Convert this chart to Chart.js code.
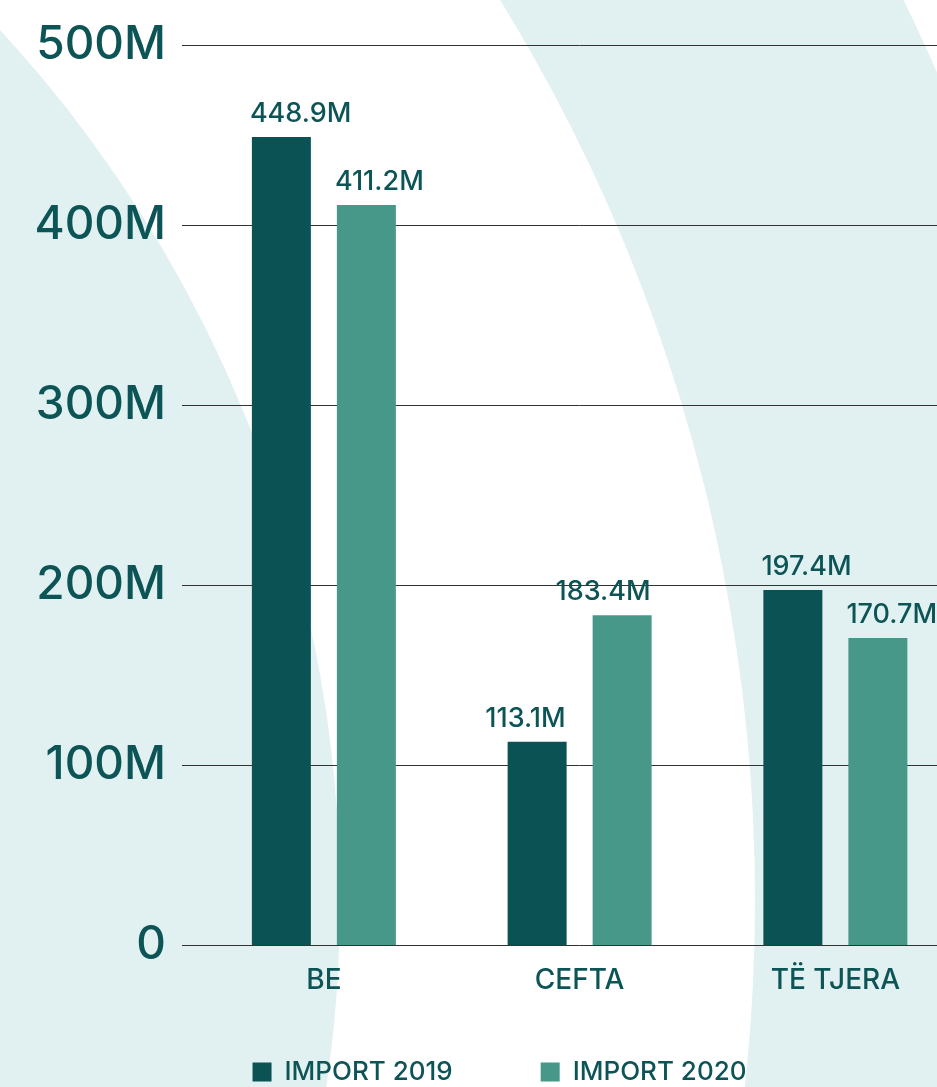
<!DOCTYPE html>
<html>
<head>
<meta charset="utf-8">
<script src="https://cdn.jsdelivr.net/npm/chart.js@4/dist/chart.umd.min.js"></script>
<style>
  html, body { margin: 0; padding: 0; background: #ffffff; overflow: hidden; width: 937px; height: 1087px; }
  #bg { position: absolute; left: 0; top: 0; width: 937px; height: 1087px; }
  #wrap { position: absolute; left: 0; top: 0; width: 975px; height: 1095px; }
</style>
</head>
<body>
<svg id="bg" width="937" height="1087" xmlns="http://www.w3.org/2000/svg">
  <rect x="0" y="0" width="937" height="1087" fill="#ffffff"/>
  <circle cx="-955" cy="900" r="2065" fill="#e1f0f0"/>
  <circle cx="-961" cy="900" r="1716" fill="#ffffff"/>
  <circle cx="-943" cy="900" r="1283" fill="#e1f0f0"/>
</svg>
<div id="wrap"><canvas id="c"></canvas></div>
<script>
const categories = ['BE', 'CEFTA', 'TË TJERA'];
const import2019 = [448.9, 113.1, 197.4];
const import2020 = [411.2, 183.4, 170.7];
const seriesNames = ['IMPORT 2019', 'IMPORT 2020'];
const yTicks = [0, 100, 200, 300, 400, 500];
const labelAlign = ['left', 'right', 'left'];

const TEXT = '#0c5456';
const FONT = 'Inter';

const valueLabels = {
  id: 'valueLabels',
  afterDatasetsDraw(chart) {
    const ctx = chart.ctx;
    ctx.save();
    ctx.font = '500 27px ' + FONT;
    ctx.fillStyle = TEXT;
    ctx.textBaseline = 'alphabetic';
    chart.data.datasets.forEach((ds, di) => {
      const meta = chart.getDatasetMeta(di);
      meta.data.forEach((el, i) => {
        const v = ds.data[i];
        const txt = v.toFixed(1) + 'M';
        const al = labelAlign[i];
        let x;
        if (al === 'left') { ctx.textAlign = 'left'; x = el.x - el.width / 2 - 2; }
        else { ctx.textAlign = 'right'; x = el.x + el.width / 2 - 1; }
        ctx.fillText(txt, x, el.y - 15);
      });
    });
    ctx.restore();
  }
};

// let the x-axis labels show below the thin axis box (the legend sits under it)
const xLabelRoom = {
  id: 'xLabelRoom',
  afterLayout(chart) { chart.scales.x.bottom = chart.height; }
};

new Chart(document.getElementById('c'), {
  type: 'bar',
  data: {
    labels: categories,
    datasets: [
      { label: seriesNames[0], data: import2019, backgroundColor: '#0a5254', borderWidth: 0 },
      { label: seriesNames[1], data: import2020, backgroundColor: '#479888', borderWidth: 0 }
    ]
  },
  options: {
    responsive: true,
    maintainAspectRatio: false,
    animation: false,
    categoryPercentage: 0.6647,
    barPercentage: 0.694,
    layout: { padding: { top: 45, left: 35.75, right: 11.75, bottom: 0 } },
    plugins: {
      legend: {
        position: 'bottom',
        labels: {
          boxWidth: 19,
          boxHeight: 19,
          padding: 88,
          color: TEXT,
          font: { family: FONT, size: 26, weight: '500' }
        }
      },
      tooltip: { enabled: false }
    },
    scales: {
      x: {
        grid: { display: false, drawTicks: false },
        border: { display: false },
        ticks: {
          color: TEXT,
          padding: 18,
          font: { family: FONT, size: 28, weight: '500' }
        },
        afterFit(scale) { scale.height = 25.5; }
      },
      y: {
        min: 0,
        max: 500,
        afterBuildTicks(scale) { scale.ticks = yTicks.map(v => ({ value: v })); },
        grid: { color: '#333333', lineWidth: 1, drawTicks: true, tickLength: 14 },
        border: { display: false },
        ticks: {
          color: TEXT,
          padding: 16,
          font: { family: FONT, size: 46, weight: '500' },
          callback: (v) => v === 0 ? '0' : v + 'M'
        },
        afterFit(scale) { scale.width = 160.25; }
      }
    }
  },
  plugins: [valueLabels, xLabelRoom]
});
</script>
</body>
</html>
